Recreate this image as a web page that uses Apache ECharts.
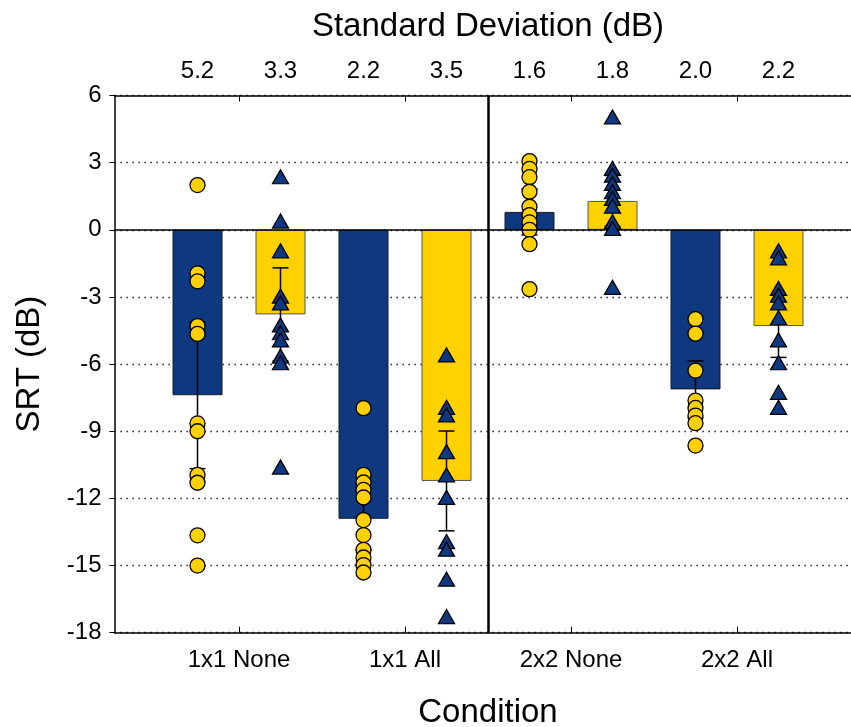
<!DOCTYPE html>
<html>
<head>
<meta charset="utf-8">
<script src="https://cdn.jsdelivr.net/npm/echarts@6/dist/echarts.min.js"></script>
<style>html,body{margin:0;padding:0;background:#fff;}#c{width:851px;height:727px;}</style>
</head>
<body>
<div id="c"></div>
<script>
// ---- data ----
const conditions = ['1x1 None', '1x1 All', '2x2 None', '2x2 All'];
const conditionPos = [1.5, 3.5, 5.5, 7.5];
const barPos = [1, 2, 3, 4, 5, 6, 7, 8];
const sdLabels = ['5.2', '3.3', '2.2', '3.5', '1.6', '1.8', '2.0', '2.2'];
const barMeans = [-7.39, -3.78, -12.91, -11.22, 0.80, 1.29, -7.13, -4.30];
const barErrors = [3.28, 2.08, 1.39, 2.23, 1.03, 1.14, 1.27, 1.40];
// individual subjects (circles on blue bars, triangles on yellow bars)
const pts1x1NoneA = [2.0, -1.95, -2.3, -4.3, -4.65, -8.65, -9.0, -10.95, -11.3, -13.65, -15.0];
const pts1x1NoneB = [2.37, 0.39, -0.94, -2.96, -3.26, -4.25, -4.6, -4.92, -5.64, -5.94, -10.6];
const pts1x1AllA = [-7.97, -10.95, -11.29, -11.62, -11.96, -12.97, -13.64, -14.3, -14.64, -14.98, -15.31];
const pts1x1AllB = [-5.59, -7.93, -8.27, -9.91, -10.95, -11.95, -13.93, -14.27, -15.61, -17.28];
const pts2x2NoneA = [3.07, 2.72, 2.35, 1.70, 1.03, 0.66, 0.33, 0.0, -0.64, -2.65];
const pts2x2NoneB = [5.04, 2.74, 2.44, 2.07, 1.70, 1.40, 1.06, 0.36, 0.06, -2.57];
const pts2x2AllA = [-3.99, -4.64, -6.29, -7.63, -7.96, -8.30, -8.64, -9.64];
const pts2x2AllB = [-0.94, -1.25, -2.62, -2.92, -3.26, -3.93, -4.92, -5.94, -7.26, -7.93];
const yTicks = { min: -18, max: 6, interval: 3 };
const dividerPos = 4.5;

// ---- styles ----
const BLUE = '#0e3880';
const YELLOW = '#ffd100';
const FONT = '"Liberation Sans", Arial, sans-serif';

const circleGroups = [pts1x1NoneA, pts1x1AllA, pts2x2NoneA, pts2x2AllA];
const triGroups = [pts1x1NoneB, pts1x1AllB, pts2x2NoneB, pts2x2AllB];
const circleData = [], triData = [];
circleGroups.forEach((arr, g) => arr.forEach(v => circleData.push([barPos[g * 2], v])));
triGroups.forEach((arr, g) => arr.forEach(v => triData.push([barPos[g * 2 + 1], v])));

const barData = barPos.map((x, i) => ({
  value: [x, barMeans[i]],
  itemStyle: {
    color: i % 2 === 0 ? BLUE : YELLOW,
    borderColor: i % 2 === 0 ? '#1a1a1a' : '#555',
    borderWidth: 1
  }
}));
const errData = barPos.map((x, i) => [x, barMeans[i], barErrors[i]]);

const chart = echarts.init(document.getElementById('c'), null, { renderer: 'canvas' });
chart.setOption({
  animation: false,
  backgroundColor: '#fff',
  grid: { left: 114.5, top: 95.5, right: -10.5, bottom: 94.3, containLabel: false, outerBoundsMode: 'none' },
  xAxis: [
    {
      type: 'value', position: 'bottom', min: 0, max: 9,
      axisLine: { show: true, onZero: false, lineStyle: { color: '#000', width: 1.5 } },
      axisTick: { show: true, inside: true, length: 6, customValues: conditionPos, lineStyle: { color: '#000', width: 1 } },
      axisLabel: {
        customValues: conditionPos, margin: 16, color: '#000', fontSize: 24, fontFamily: FONT,
        formatter: v => conditions[conditionPos.indexOf(v)] || ''
      },
      splitLine: { show: false },
      name: 'Condition', nameLocation: 'middle', nameGap: 64,
      nameTextStyle: { color: '#000', fontSize: 33, fontFamily: FONT }
    },
    {
      type: 'value', position: 'top', min: 0, max: 9,
      axisLine: { show: true, onZero: false, lineStyle: { color: '#000', width: 1.5 } },
      axisTick: { show: true, inside: true, length: 6, customValues: conditionPos, lineStyle: { color: '#000', width: 1 } },
      axisLabel: {
        customValues: barPos, margin: 12, color: '#000', fontSize: 24, fontFamily: FONT,
        formatter: v => sdLabels[barPos.indexOf(v)] || ''
      },
      splitLine: { show: false },
      name: 'Standard Deviation (dB)', nameLocation: 'middle', nameGap: 52,
      nameTextStyle: { color: '#000', fontSize: 33, fontFamily: FONT }
    }
  ],
  yAxis: {
    type: 'value', min: yTicks.min, max: yTicks.max, interval: yTicks.interval,
    axisLine: { show: true, onZero: false, lineStyle: { color: '#000', width: 1.5 } },
    axisTick: { show: true, inside: false, length: 5, lineStyle: { color: '#000', width: 1 } },
    axisLabel: { margin: 13, color: '#000', fontSize: 24, fontFamily: FONT },
    splitLine: { show: true, lineStyle: { color: '#000', width: 1.3, type: [1.3, 4.7] } },
    name: 'SRT (dB)', nameLocation: 'middle', nameGap: 68,
    nameTextStyle: { color: '#000', fontSize: 33, fontFamily: FONT }
  },
  series: [
    {
      type: 'bar', xAxisIndex: 0, barWidth: 50, data: barData, z: 2,
      emphasis: { disabled: true }
    },
    {
      type: 'custom', xAxisIndex: 0, z: 3, data: errData,
      renderItem: function (params, api) {
        const x = api.value(0), y = api.value(1), e = api.value(2);
        const p1 = api.coord([x, y + e]);
        const p2 = api.coord([x, y - e]);
        const hw = 8;
        const st = { stroke: '#000', lineWidth: 1.5 };
        return {
          type: 'group',
          children: [
            { type: 'line', shape: { x1: p1[0], y1: p1[1], x2: p2[0], y2: p2[1] }, style: st },
            { type: 'line', shape: { x1: p1[0] - hw, y1: p1[1], x2: p1[0] + hw, y2: p1[1] }, style: st },
            { type: 'line', shape: { x1: p2[0] - hw, y1: p2[1], x2: p2[0] + hw, y2: p2[1] }, style: st }
          ]
        };
      },
      markLine: {
        silent: true, symbol: 'none', label: { show: false },
        data: [
          { yAxis: 0, lineStyle: { color: '#000', width: 1.5, type: 'solid' } },
          { xAxis: dividerPos, lineStyle: { color: '#000', width: 2.5, type: 'solid' } }
        ]
      }
    },
    {
      type: 'scatter', xAxisIndex: 0, z: 4, data: circleData,
      symbol: 'circle', symbolSize: 15,
      itemStyle: { color: YELLOW, borderColor: '#000', borderWidth: 1.3, opacity: 1 }
    },
    {
      type: 'scatter', xAxisIndex: 0, z: 5, data: triData,
      symbol: 'triangle', symbolSize: [16, 14],
      itemStyle: { color: BLUE, borderColor: '#000', borderWidth: 1.3, opacity: 1 }
    }
  ]
});
</script>
</body>
</html>
